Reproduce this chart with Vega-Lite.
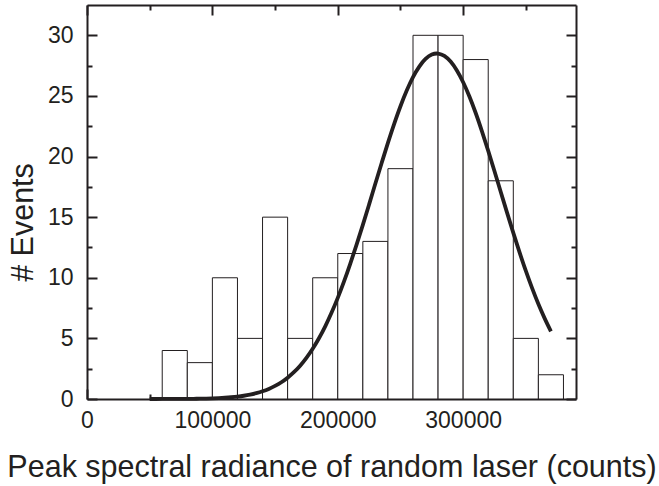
{
  "$schema": "https://vega.github.io/schema/vega-lite/v6.json",
  "width": 489,
  "height": 394,
  "autosize": "none",
  "padding": {"left": 87, "top": 5, "right": 83, "bottom": 87},
  "background": "white",
  "config": {
    "view": {"stroke": null},
    "axis": {
      "grid": false,
      "domainColor": "#231f20",
      "domainWidth": 2,
      "tickColor": "#231f20",
      "tickWidth": 2,
      "labelFont": "Liberation Sans",
      "labelFontSize": 23,
      "labelColor": "#231f20",
      "labelFlush": false,
      "labelOverlap": false,
      "labelBound": false,
      "titleFont": "Liberation Sans",
      "titleFontSize": 30.5,
      "titleFontWeight": "normal",
      "titleColor": "#231f20"
    }
  },
  "datasets": {
    "bins": [
      {"start": 60000, "end": 80000, "count": 4},
      {"start": 80000, "end": 100000, "count": 3},
      {"start": 100000, "end": 120000, "count": 10},
      {"start": 120000, "end": 140000, "count": 5},
      {"start": 140000, "end": 160000, "count": 15},
      {"start": 160000, "end": 180000, "count": 5},
      {"start": 180000, "end": 200000, "count": 10},
      {"start": 200000, "end": 220000, "count": 12},
      {"start": 220000, "end": 240000, "count": 13},
      {"start": 240000, "end": 260000, "count": 19},
      {"start": 260000, "end": 280000, "count": 30},
      {"start": 280000, "end": 300000, "count": 30},
      {"start": 300000, "end": 320000, "count": 28},
      {"start": 320000, "end": 340000, "count": 18},
      {"start": 340000, "end": 360000, "count": 5},
      {"start": 360000, "end": 380000, "count": 2}
    ],
    "fit": [
      {"x": 50000, "y": 0.0009}, {"x": 55000, "y": 0.0015}, {"x": 60000, "y": 0.0023},
      {"x": 65000, "y": 0.0035}, {"x": 70000, "y": 0.0053}, {"x": 75000, "y": 0.0079},
      {"x": 80000, "y": 0.0117}, {"x": 85000, "y": 0.0173}, {"x": 90000, "y": 0.0252},
      {"x": 95000, "y": 0.0364}, {"x": 100000, "y": 0.052}, {"x": 105000, "y": 0.0735},
      {"x": 110000, "y": 0.103}, {"x": 115000, "y": 0.143}, {"x": 120000, "y": 0.197},
      {"x": 125000, "y": 0.268}, {"x": 130000, "y": 0.361}, {"x": 135000, "y": 0.481},
      {"x": 140000, "y": 0.635}, {"x": 145000, "y": 0.832}, {"x": 150000, "y": 1.077},
      {"x": 155000, "y": 1.381}, {"x": 160000, "y": 1.755}, {"x": 165000, "y": 2.208},
      {"x": 170000, "y": 2.748}, {"x": 175000, "y": 3.391}, {"x": 180000, "y": 4.142},
      {"x": 185000, "y": 5.007}, {"x": 190000, "y": 5.994}, {"x": 195000, "y": 7.107},
      {"x": 200000, "y": 8.342}, {"x": 205000, "y": 9.698}, {"x": 210000, "y": 11.17},
      {"x": 215000, "y": 12.73}, {"x": 220000, "y": 14.36}, {"x": 225000, "y": 16.05},
      {"x": 230000, "y": 17.77}, {"x": 235000, "y": 19.47}, {"x": 240000, "y": 21.13},
      {"x": 245000, "y": 22.7}, {"x": 250000, "y": 24.15}, {"x": 255000, "y": 25.44},
      {"x": 260000, "y": 26.55}, {"x": 265000, "y": 27.42}, {"x": 270000, "y": 28.05},
      {"x": 275000, "y": 28.41}, {"x": 279000, "y": 28.5}, {"x": 280000, "y": 28.49},
      {"x": 285000, "y": 28.3}, {"x": 290000, "y": 27.83}, {"x": 295000, "y": 27.1},
      {"x": 300000, "y": 26.13}, {"x": 305000, "y": 24.95}, {"x": 310000, "y": 23.59},
      {"x": 315000, "y": 22.08}, {"x": 320000, "y": 20.47}, {"x": 325000, "y": 18.79},
      {"x": 330000, "y": 17.08}, {"x": 335000, "y": 15.37}, {"x": 340000, "y": 13.7},
      {"x": 345000, "y": 12.09}, {"x": 350000, "y": 10.56}, {"x": 355000, "y": 9.14},
      {"x": 360000, "y": 7.83}, {"x": 365000, "y": 6.65}, {"x": 370000, "y": 5.58}
    ]
  },
  "resolve": {"axis": {"x": "independent", "y": "independent"}},
  "layer": [
    {
      "data": {"name": "bins"},
      "mark": {"type": "bar", "fill": "white", "stroke": "#231f20", "strokeWidth": 1},
      "encoding": {
        "x": {
          "field": "start", "type": "quantitative",
          "scale": {"domain": [0, 390000], "nice": false, "zero": false},
          "axis": {
            "orient": "bottom",
            "values": [0, 100000, 200000, 300000],
            "format": "d",
            "tickSize": -10,
            "labelPadding": 20,
            "title": "Peak spectral radiance of random laser (counts)",
            "titleBaseline": "alphabetic",
            "titleY": 77
          }
        },
        "x2": {"field": "end"},
        "y": {
          "field": "count", "type": "quantitative",
          "scale": {"domain": [0, 32.5], "nice": false},
          "axis": {
            "orient": "left",
            "values": [0, 5, 10, 15, 20, 25, 30],
            "tickSize": -10,
            "labelPadding": 24,
            "title": "# Events",
            "titleAngle": -90,
            "titleAlign": "center",
            "titleBaseline": "alphabetic",
            "titleX": -55,
            "titleY": 217
          }
        },
        "y2": {"datum": 0}
      }
    },
    {
      "data": {"name": "fit"},
      "mark": {"type": "line", "color": "#231f20", "strokeWidth": 3.8, "interpolate": "monotone"},
      "encoding": {
        "x": {
          "field": "x", "type": "quantitative",
          "axis": {"orient": "top", "values": [0, 100000, 200000, 300000], "tickSize": -10, "labels": false, "title": null}
        },
        "y": {
          "field": "y", "type": "quantitative",
          "axis": {"orient": "right", "values": [0, 5, 10, 15, 20, 25, 30], "tickSize": -10, "labels": false, "title": null}
        }
      }
    },
    {
      "data": {"name": "bins"},
      "mark": {"type": "bar", "opacity": 0},
      "encoding": {
        "x": {
          "field": "start", "type": "quantitative",
          "axis": {"orient": "bottom", "values": [50000, 150000, 250000, 350000], "tickSize": -5, "labels": false, "domain": false, "title": null}
        },
        "x2": {"field": "end"},
        "y": {
          "field": "count", "type": "quantitative",
          "axis": {"orient": "left", "values": [2.5, 7.5, 12.5, 17.5, 22.5, 27.5], "tickSize": -5, "labels": false, "domain": false, "title": null}
        },
        "y2": {"datum": 0}
      }
    },
    {
      "data": {"name": "bins"},
      "mark": {"type": "bar", "opacity": 0},
      "encoding": {
        "x": {
          "field": "start", "type": "quantitative",
          "axis": {"orient": "top", "values": [50000, 150000, 250000, 350000], "tickSize": -5, "labels": false, "domain": false, "title": null}
        },
        "x2": {"field": "end"},
        "y": {
          "field": "count", "type": "quantitative",
          "axis": {"orient": "right", "values": [2.5, 7.5, 12.5, 17.5, 22.5, 27.5], "tickSize": -5, "labels": false, "domain": false, "title": null}
        },
        "y2": {"datum": 0}
      }
    }
  ]
}
